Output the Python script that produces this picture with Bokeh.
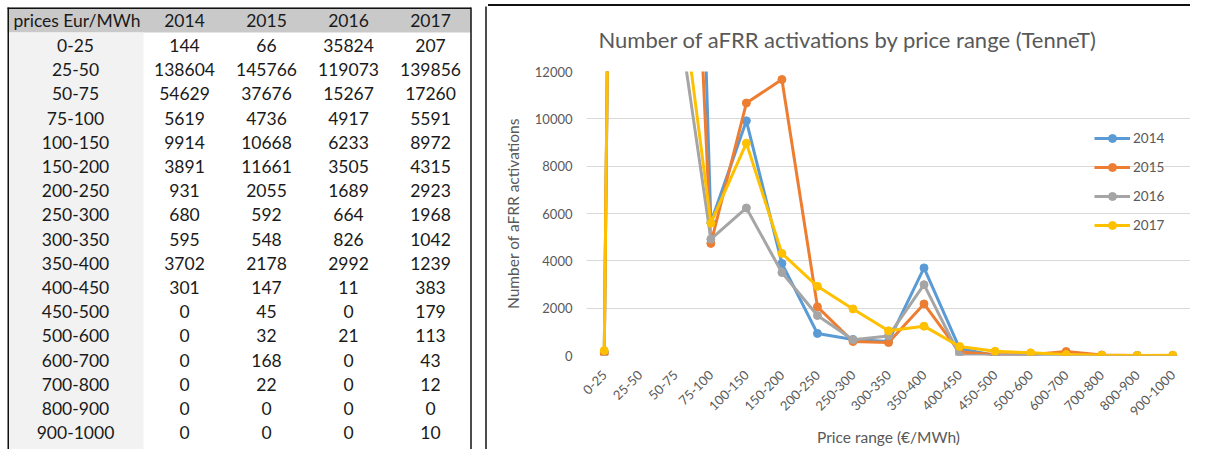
from bokeh.plotting import figure
from bokeh.models import (Range1d, FactorRange, Legend, LegendItem, FixedTicker,
                          NumeralTickFormatter)
from bokeh.layouts import row
from bokeh.embed import file_html
from bokeh.resources import INLINE
from bokeh.core.properties import value
from math import pi

# ---------------- data ----------------
price_ranges = ["0-25", "25-50", "50-75", "75-100", "100-150", "150-200", "200-250",
                "250-300", "300-350", "350-400", "400-450", "450-500", "500-600",
                "600-700", "700-800", "800-900", "900-1000"]
years = ["2014", "2015", "2016", "2017"]
v2014 = [144, 138604, 54629, 5619, 9914, 3891, 931, 680, 595, 3702, 301, 0, 0, 0, 0, 0, 0]
v2015 = [66, 145766, 37676, 4736, 10668, 11661, 2055, 592, 548, 2178, 147, 45, 32, 168, 22, 0, 0]
v2016 = [35824, 119073, 15267, 4917, 6233, 3505, 1689, 664, 826, 2992, 11, 0, 21, 0, 0, 0, 0]
v2017 = [207, 139856, 17260, 5591, 8972, 4315, 2923, 1968, 1042, 1239, 383, 179, 113, 43, 12, 0, 10]
series = [v2014, v2015, v2016, v2017]
table_header = "prices Eur/MWh"
y_ticks = [0, 2000, 4000, 6000, 8000, 10000, 12000]
title_text = "Number of aFRR activations by price range (TenneT)"
x_title = "Price range (€/MWh)"
y_title = "Number of aFRR activations"

colors = ["#5B9BD5", "#ED7D31", "#A5A5A5", "#FFC000"]
FONT = value("Lato")
GREY_TXT = "#595959"
TXT = "#1a1a1a"

# ---------------- table (left) ----------------
W_T, H = 488, 449
t = figure(width=W_T, height=H, x_range=Range1d(0, W_T), y_range=Range1d(H, 0),
           output_backend="svg", toolbar_location=None, min_border=0)
t.axis.visible = False
t.grid.visible = False
t.outline_line_color = None
t.background_fill_color = "white"
try:
    t.frame_align = False
except Exception:
    pass

tbl_left, tbl_right = 7, 470.5
col0_right = 143
col_w = 82
head_top, head_bot = 7, 32
row0_c, row_h = 45, 24.2
val_centers = [col0_right + col_w / 2 + col_w * j for j in range(len(years))]

t.quad(left=[tbl_left], right=[tbl_right], top=[head_top], bottom=[head_bot],
       fill_color="#C9C9C9", line_color=None)
t.quad(left=[tbl_left], right=[col0_right], top=[head_bot], bottom=[H],
       fill_color="#F2F2F2", line_color=None)
t.segment(x0=[tbl_left + 0.75, tbl_right, tbl_left], y0=[head_top, head_top, head_top + 0.75],
          x1=[tbl_left + 0.75, tbl_right, tbl_right], y1=[H, H, head_top + 0.75],
          line_color="#111111", line_width=1.5)
# left border of the chart box
t.segment(x0=[485.5], y0=[head_top - 1], x1=[485.5], y1=[H], line_color="#111111", line_width=1.5)

FS = "17.5px"
head_y = (head_top + head_bot) / 2
t.text(x=[tbl_left + 6], y=[head_y], text=[table_header], text_align="left",
       text_baseline="middle", text_font=FONT, text_font_size=FS, text_color=TXT)
t.text(x=val_centers, y=[head_y] * len(years), text=years, text_align="center",
       text_baseline="middle", text_font=FONT, text_font_size=FS, text_color=TXT)

row_y = [row0_c + row_h * i for i in range(len(price_ranges))]
t.text(x=[(tbl_left + col0_right) / 2] * len(price_ranges), y=row_y, text=price_ranges,
       text_align="center", text_baseline="middle", text_font=FONT, text_font_size=FS,
       text_color=TXT)
for j, vals in enumerate(series):
    t.text(x=[val_centers[j]] * len(vals), y=row_y, text=[str(v) for v in vals],
           text_align="center", text_baseline="middle", text_font=FONT,
           text_font_size=FS, text_color=TXT)

# ---------------- chart (right) ----------------
c = figure(width=702, height=443, x_range=FactorRange(*price_ranges), y_range=Range1d(0, 12000),
           output_backend="svg", toolbar_location=None,
           min_border_left=98, min_border_right=0, min_border_top=64, min_border_bottom=90,
           styles={"margin-top": "4px", "border-top": "2px solid #111111"})
try:
    c.frame_align = False
except Exception:
    pass
c.outline_line_color = None
c.xgrid.grid_line_color = None
c.ygrid.grid_line_color = "#D9D9D9"
c.ygrid.grid_line_width = 1

c.yaxis.ticker = FixedTicker(ticks=y_ticks)
c.yaxis.formatter = NumeralTickFormatter(format="0")
for ax in (c.xaxis[0], c.yaxis[0]):
    ax.axis_line_color = None
    ax.major_tick_line_color = None
    ax.minor_tick_line_color = None
    ax.major_tick_out = 0
    ax.major_tick_in = 0
    ax.major_label_text_font = "Lato"
    ax.major_label_text_font_size = "13px"
    ax.major_label_text_color = GREY_TXT
    ax.axis_label_text_font = "Lato"
    ax.axis_label_text_font_size = "15.5px"
    ax.axis_label_text_font_style = "normal"
    ax.axis_label_text_color = GREY_TXT

c.yaxis.major_label_standoff = 14
c.yaxis.axis_label = y_title
c.yaxis.axis_label_standoff = 10
c.xaxis.major_label_orientation = pi / 4
c.xaxis.major_label_standoff = 17
c.xaxis.axis_label = x_title
c.xaxis.axis_label_standoff = 5

c.title.text = title_text
c.title.text_font = "Lato"
c.title.text_font_size = "22px"
c.title.text_font_style = "normal"
c.title.text_color = GREY_TXT
c.title.align = "left"
c.title.offset = 12
c.title.vertical_align = "middle"
c.title.standoff = 36

items = []
for yr, vals, col in zip(years, series, colors):
    ln = c.line(x=price_ranges, y=vals, line_color=col, line_width=3)
    sc = c.scatter(x=price_ranges, y=vals, size=8, fill_color=col, line_color=col)
    items.append(LegendItem(label=yr, renderers=[ln, sc]))

legend = Legend(items=items, location=(508, 120), padding=0, margin=0, spacing=9,
                glyph_width=36, glyph_height=20, label_height=20, label_standoff=3,
                border_line_color=None, background_fill_alpha=0,
                label_text_font="Lato", label_text_font_size="13.5px",
                label_text_color=GREY_TXT)
c.add_layout(legend)

layout = row(t, c)
open("out.html", "w").write(file_html(layout, INLINE))
